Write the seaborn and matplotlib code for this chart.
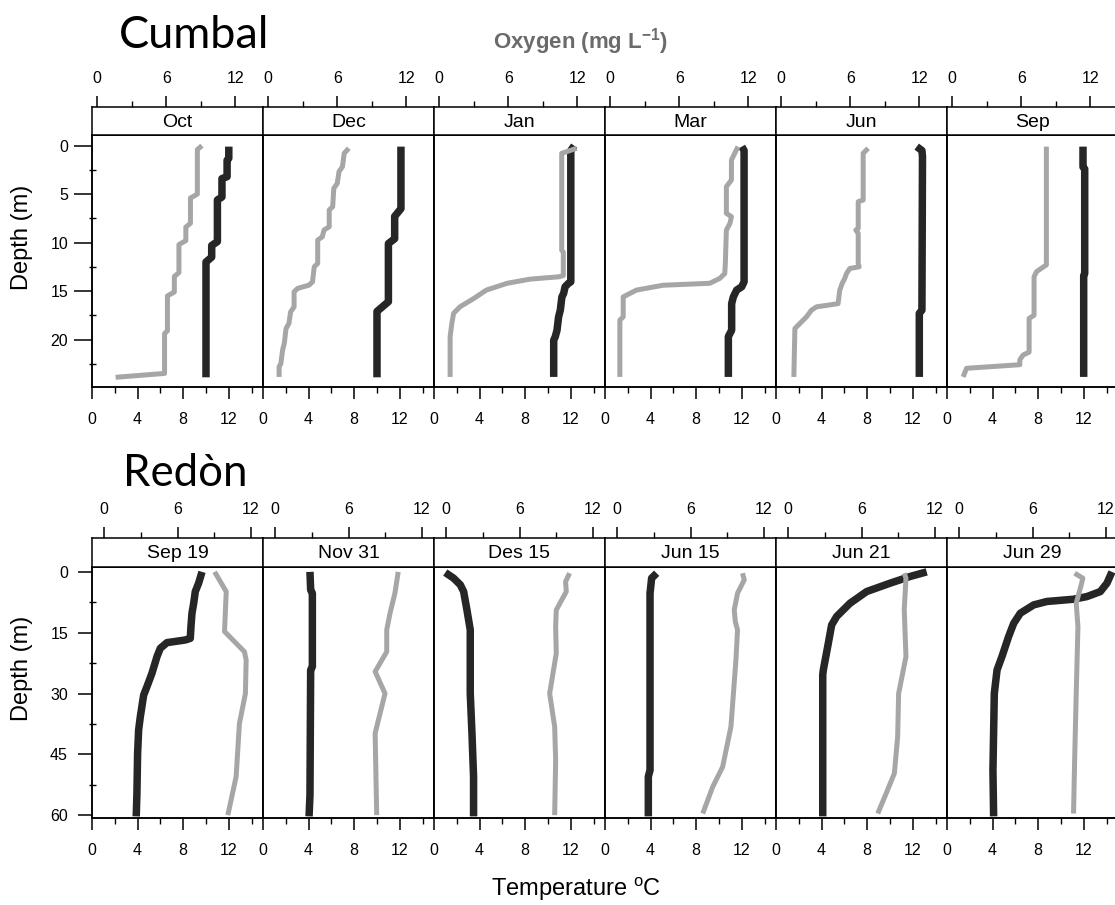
import matplotlib
matplotlib.use("Agg")
import matplotlib.pyplot as plt
import seaborn as sns
import pandas as pd

sns.set_style("ticks")
plt.rcParams['font.family'] = ['Liberation Sans', 'DejaVu Sans']
plt.rcParams['axes.edgecolor'] = 'black'
plt.rcParams['axes.linewidth'] = 1.1
plt.rcParams['xtick.color'] = 'black'
plt.rcParams['ytick.color'] = 'black'
plt.rcParams['text.color'] = 'black'

# ---------------- Cumbal (depth m, temperature degC / oxygen mg L-1) ----------------
cumbal_labels = ["Oct", "Dec", "Jan", "Mar", "Jun", "Sep"]

oct_t_depth = [0.1, 1.3, 1.5, 3.2, 3.4, 5.3, 5.6, 9.9, 10.3, 11.5, 12.0, 23.9]
oct_t = [12.0, 12.0, 11.85, 11.85, 11.4, 11.4, 11.0, 11.0, 10.5, 10.5, 10.0, 10.0]
oct_o_depth = [0.0, 0.4, 5.0, 5.4, 8.0, 8.4, 9.8, 10.2, 13.1, 13.5, 15.1, 15.5, 19.1, 19.4, 23.5, 23.9]
oct_o = [9.1, 8.7, 8.7, 8.1, 8.1, 7.7, 7.7, 7.1, 7.1, 6.7, 6.7, 6.1, 6.1, 5.85, 5.85, 1.6]

dec_t_depth = [0.1, 6.5, 7.3, 9.6, 10.1, 16.1, 17.1, 23.9]
dec_t = [12.1, 12.1, 11.55, 11.55, 11.0, 11.0, 10.0, 10.0]
dec_o_depth = [0.27, 0.79, 2.17, 2.68, 3.89, 4.4, 6.3, 6.64, 8.36, 8.71, 9.4, 9.74, 12.15, 12.5,
               14.05, 14.39, 14.73, 15.08, 16.63, 17.15, 18.35, 18.87, 20.4, 21.1, 22.5, 22.8, 23.86]
dec_o = [7.0, 6.6, 6.45, 6.15, 6.0, 5.7, 5.6, 5.3, 5.3, 4.85, 4.7, 4.3, 4.3, 4.0,
         3.85, 3.55, 2.55, 2.25, 2.25, 1.95, 1.8, 1.55, 1.4, 1.25, 1.1, 0.95, 0.95]

jan_t_depth = [0.0, 0.5, 14.05, 14.2, 14.56, 15.25, 15.6, 16.97, 17.66, 19.04, 19.7, 20.07, 23.86]
jan_t = [12.3, 12.0, 12.0, 11.8, 11.5, 11.37, 11.22, 11.08, 10.93, 10.79, 10.64, 10.5, 10.5]
jan_o_depth = [0.27, 0.79, 10.78, 11.0, 13.4, 13.53, 13.77, 14.2, 14.9, 15.77, 16.63, 17.3, 18.35, 19.7, 23.86]
jan_o = [11.94, 10.64, 10.64, 10.78, 10.78, 10.4, 7.9, 5.9, 4.1, 3.0, 1.8, 1.25, 1.1, 0.95, 0.95]

mar_t_depth = [0.1, 0.5, 14.05, 14.56, 14.9, 15.6, 16.3, 19.04, 19.7, 23.86]
mar_t = [12.0, 12.2, 12.2, 11.99, 11.55, 11.26, 11.11, 11.11, 10.82, 10.82]
mar_o_depth = [0.1, 1.48, 3.54, 4.23, 6.98, 7.33, 8.02, 8.71, 12.15, 13.2, 13.7, 14.2, 14.4, 14.9, 15.6, 17.66, 18.0, 23.86]
mar_o = [11.1, 10.53, 10.53, 10.09, 10.09, 10.53, 10.4, 10.09, 10.0, 9.95, 9.51, 8.65, 4.6, 2.29, 1.13, 1.13, 0.84, 0.84]

jun_t_depth = [0.1, 0.5, 1.13, 16.97, 17.3, 23.86]
jun_t = [12.34, 12.8, 12.85, 12.8, 12.57, 12.57]
jun_o_depth = [0.27, 0.79, 5.61, 5.78, 8.53, 8.71, 9.05, 12.15, 12.5, 12.67, 13.2, 13.7, 14.2, 14.9,
               16.3, 16.63, 16.97, 17.66, 18.35, 18.87, 23.86]
jun_o = [7.55, 7.12, 7.12, 6.69, 6.69, 6.48, 6.69, 6.69, 6.77, 5.96, 5.67, 5.52, 5.3, 5.09,
         4.94, 3.07, 2.63, 2.2, 1.62, 1.19, 1.1]

sep_t_depth = [0.1, 2.2, 2.4, 13.2, 13.4, 23.86]
sep_t = [11.93, 11.93, 12.08, 12.08, 11.99, 11.99]
sep_o_depth = [0.1, 12.3, 13.0, 13.53, 17.5, 17.83, 21.3, 21.6, 22.1, 22.6, 22.97, 23.86]
sep_o = [8.18, 8.18, 7.32, 7.11, 7.11, 6.68, 6.68, 6.16, 5.87, 5.87, 1.25, 0.95]

# ---------------- Redon ----------------
redon_labels = ["Sep 19", "Nov 31", "Des 15", "Jun 15", "Jun 21", "Jun 29"]

sep19_t_depth = [0, 2.8, 4.86, 7.74, 10.2, 13.5, 16.4, 16.8, 17.45, 18.85, 20.9, 25.0, 28.3, 30.4, 35.7, 39.0, 44.8, 54.7, 60.3]
sep19_t = [9.65, 9.35, 9.06, 8.92, 8.77, 8.68, 8.62, 8.18, 6.58, 5.99, 5.7, 5.26, 4.82, 4.53, 4.24, 4.09, 4.0, 3.94, 3.88]
sep19_o_depth = [0, 4.86, 14.7, 19.7, 21.7, 30, 37.4, 50.5, 60]
sep19_o = [9.04, 9.99, 9.85, 11.48, 11.62, 11.56, 11.07, 10.8, 10.12]

nov31_t_depth = [0, 4.44, 5.27, 23.4, 24.2, 55, 60.3]
nov31_t = [4.12, 4.18, 4.33, 4.33, 4.18, 4.12, 4.04]
nov31_o_depth = [0, 5.27, 10.2, 14.3, 19.7, 24.6, 30, 39.8, 60]
nov31_o = [10.07, 9.8, 9.4, 9.13, 9.13, 8.18, 8.99, 8.18, 8.31]

des15_t_depth = [0.17, 1.56, 3.2, 4.86, 9.4, 14.3, 30, 39.8, 50.5, 60.3]
des15_t = [0.99, 1.72, 2.31, 2.6, 2.89, 3.18, 3.18, 3.33, 3.47, 3.47]
des15_o_depth = [0.33, 2.39, 4.86, 9.4, 13.5, 20.1, 30, 38.2, 46.4, 60]
des15_o = [10.1, 9.77, 9.83, 9.01, 8.96, 9.01, 8.47, 8.88, 8.96, 8.88]

jun15_t_depth = [0.33, 1.56, 5.27, 48.9, 50.5, 60.3]
jun15_t = [4.53, 4.09, 3.95, 3.95, 3.8, 3.8]
jun15_o_depth = [0.33, 1.98, 5.27, 9.4, 12.3, 14.3, 21.7, 38.2, 48.1, 53, 59.6]
jun15_o = [10.26, 10.4, 9.85, 9.58, 9.67, 9.85, 9.72, 9.31, 8.63, 7.82, 7.0]

jun21_t_depth = [0, 1.15, 2.8, 4.86, 7.74, 11.0, 13.1, 17.6, 24.2, 25.4, 60.3]
jun21_t = [13.22, 11.75, 10.0, 7.95, 6.49, 5.32, 4.88, 4.59, 4.15, 4.1, 4.1]
jun21_o_depth = [0.33, 1.56, 9.4, 20.9, 30, 40.7, 49.7, 54.7, 59.6]
jun21_o = [9.5, 9.64, 9.5, 9.64, 9.04, 8.96, 8.69, 8.01, 7.33]

jun29_t_depth = [0, 2.8, 4.86, 6.09, 6.75, 7.3, 8.15, 10.2, 12.7, 16.0, 20.9, 24.2, 30, 48.9, 60.3]
jun29_t = [14.47, 14.03, 13.45, 12.28, 11.1, 8.77, 7.6, 6.43, 5.85, 5.4, 4.82, 4.39, 4.15, 4.03, 4.09]
jun29_o_depth = [0.33, 1.56, 3.2, 7.74, 13.5, 30, 46.4, 59.6]
jun29_o = [9.45, 10.12, 9.99, 9.58, 9.72, 9.58, 9.45, 9.36]

temp_ticks = [0, 4, 8, 12]
temp_minor = [2, 6, 10, 14]
oxy_ticks = [0, 6, 12]
oxy_minor = [3, 9]
cumbal_depth_ticks = [0, 5, 10, 15, 20]
cumbal_depth_minor = [2.5, 7.5, 12.5, 17.5, 22.5]
redon_depth_ticks = [0, 15, 30, 45, 60]
redon_depth_minor = [7.5, 22.5, 37.5, 52.5]

cumbal_series = [
    (oct_t_depth, oct_t, oct_o_depth, oct_o),
    (dec_t_depth, dec_t, dec_o_depth, dec_o),
    (jan_t_depth, jan_t, jan_o_depth, jan_o),
    (mar_t_depth, mar_t, mar_o_depth, mar_o),
    (jun_t_depth, jun_t, jun_o_depth, jun_o),
    (sep_t_depth, sep_t, sep_o_depth, sep_o),
]
redon_series = [
    (sep19_t_depth, sep19_t, sep19_o_depth, sep19_o),
    (nov31_t_depth, nov31_t, nov31_o_depth, nov31_o),
    (des15_t_depth, des15_t, des15_o_depth, des15_o),
    (jun15_t_depth, jun15_t, jun15_o_depth, jun15_o),
    (jun21_t_depth, jun21_t, jun21_o_depth, jun21_o),
    (jun29_t_depth, jun29_t, jun29_o_depth, jun29_o),
]

W, H = 1115, 905
fig = plt.figure(figsize=(W / 100, H / 100), dpi=100)
BLACK = '#262626'
GREY = '#a6a6a6'
PX = 72 / 100.0  # points per pixel


def rect(x0, y_top, w, h):
    return [x0 / W, 1 - (y_top + h) / H, w / W, h / H]


def draw_row(series, labels, strip_top, strip_h, plot_h, ylim, yticks, yminor, o2lim, ytick_len, ypad):
    for i, (lab, (td, tv, od, ov)) in enumerate(zip(labels, series)):
        x0 = 92 + 171 * i
        ax = fig.add_axes(rect(x0, strip_top + strip_h, 171, plot_h))
        df_t = pd.DataFrame({'depth': td, 'value': tv})
        df_o = pd.DataFrame({'depth': od, 'value': ov})
        sns.lineplot(data=df_t, x='value', y='depth', sort=False, estimator=None,
                     color=BLACK, linewidth=5.4, ax=ax, solid_capstyle='butt', solid_joinstyle='round')
        ax.set_xlim(0, 15)
        ax.set_ylim(ylim)
        ax.set_xlabel('')
        ax.set_ylabel('')
        ax.set_xticks(temp_ticks)
        ax.set_xticks(temp_minor, minor=True)
        ax.tick_params(axis='x', which='major', direction='out', length=12 * PX, width=1.1,
                       labelsize=11.5, pad=13 * PX, bottom=True, top=False)
        ax.tick_params(axis='x', which='minor', direction='out', length=6 * PX, width=1.0,
                       bottom=True, top=False)
        if i == 0:
            ax.set_yticks(yticks)
            ax.set_yticks(yminor, minor=True)
            ax.tick_params(axis='y', which='major', direction='out', length=ytick_len * PX, width=1.1,
                           labelsize=11.5, pad=ypad * PX)
            ax.tick_params(axis='y', which='minor', direction='inout', length=7 * PX, width=1.0)
        else:
            ax.set_yticks([])
            ax.tick_params(axis='y', which='both', left=False, labelleft=False)

        ax2 = ax.twiny()
        sns.lineplot(data=df_o, x='value', y='depth', sort=False, estimator=None,
                     color=GREY, linewidth=3.6, ax=ax2, solid_capstyle='butt', solid_joinstyle='round')
        ax2.set_xlim(o2lim)
        ax2.set_ylim(ylim)
        ax2.set_xlabel('')
        ax2.set_ylabel('')
        ax2.set_xticks([])
        ax2.tick_params(axis='both', which='both', top=False, labeltop=False)

        axs = fig.add_axes(rect(x0, strip_top, 171, strip_h))
        axs.set_xlim(o2lim)
        axs.set_ylim(0, 1)
        axs.set_yticks([])
        axs.xaxis.set_ticks_position('top')
        axs.set_xticks(oxy_ticks)
        axs.set_xticks(oxy_minor, minor=True)
        axs.tick_params(axis='x', which='major', direction='out', length=11 * PX, width=1.1,
                        labelsize=11.5, pad=10 * PX, top=True, bottom=False, labeltop=True, labelbottom=False)
        axs.tick_params(axis='x', which='minor', direction='out', length=6 * PX, width=1.0,
                        top=True, bottom=False)
        axs.text(0.5, 0.45, lab, transform=axs.transAxes, ha='center', va='center', fontsize=14)


draw_row(cumbal_series, cumbal_labels, strip_top=107, strip_h=28, plot_h=252,
         ylim=(24.9, -1.1), yticks=cumbal_depth_ticks, yminor=cumbal_depth_minor,
         o2lim=(-0.45, 14.4), ytick_len=18, ypad=6)
draw_row(redon_series, redon_labels, strip_top=538, strip_h=29, plot_h=251,
         ylim=(60.7, -1.2), yticks=redon_depth_ticks, yminor=redon_depth_minor,
         o2lim=(-1.0, 13.0), ytick_len=14, ypad=10)

fig.text(119 / W, 1 - 36 / H, "Cumbal", fontsize=32.5, family=['Lato', 'DejaVu Sans'],
         ha='left', va='center')
fig.text(123 / W, 1 - 473 / H, "Redòn", fontsize=31.5, family=['Lato', 'DejaVu Sans'],
         ha='left', va='center')
fig.text(581 / W, 1 - 42 / H, r"Oxygen (mg L$^{\mathregular{-1}}$)", fontsize=16, fontweight='bold',
         color='#6b6b6b', ha='center', va='center')
fig.text(576 / W, 1 - 889 / H, r"Temperature $^{\mathregular{o}}$C", fontsize=17,
         ha='center', va='center')
fig.text(22 / W, 1 - 237 / H, "Depth (m)", fontsize=17, rotation=90, ha='center', va='center')
fig.text(22 / W, 1 - 668 / H, "Depth (m)", fontsize=17, rotation=90, ha='center', va='center')

fig.savefig("out.png", dpi=100)
